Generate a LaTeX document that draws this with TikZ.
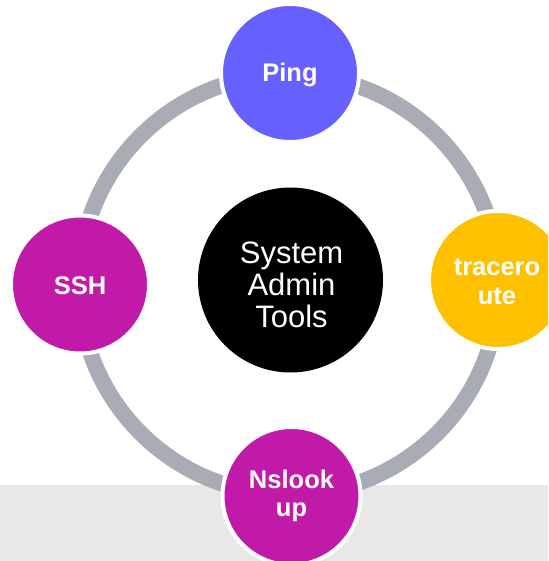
\documentclass[tikz,border=0pt]{standalone}
\usepackage{fontspec}
\setmainfont{Liberation Sans}
\definecolor{ringgray}{HTML}{A9ACB5}
\definecolor{bandgray}{HTML}{E8E8E8}
\definecolor{pingblue}{HTML}{6660FF}
\definecolor{tracegold}{HTML}{FFC000}
\definecolor{toolmagenta}{HTML}{C21AA8}
\begin{document}
\begin{tikzpicture}[x=1pt,y=-1pt,
  toolcircle/.style={circle,draw=white,line width=4pt,minimum size=138pt,inner sep=0pt},
  tooltext/.style={text=white,align=center,font=\fontsize{25.5}{28.5}\selectfont\bfseries},
  hubcircle/.style={circle,fill=black,minimum size=185pt,inner sep=0pt},
  hubtext/.style={text=white,align=center,font=\fontsize{31}{32}\selectfont},
  ring/.style={draw=ringgray,line width=16pt}]
\useasboundingbox (0,0) rectangle (548,561);
\clip (0,0) rectangle (548,561);
\fill[bandgray] (0,485) rectangle (548,561);
\coordinate (c) at (289,284.5);
\draw[ring] (c) circle[radius=210pt];
\node[hubcircle] (hub) at (290.5,280) {};
\node[hubtext] (hublabel) at ([xshift=1pt,yshift=-5pt]hub.center) {System\\Admin\\Tools};
\node[toolcircle,fill=pingblue] (ping) at (290,73) {};
\node[tooltext] (pinglabel) at ([yshift=-2pt]ping.center) {Ping};
\node[toolcircle,fill=tracegold] (trace) at (498,280) {};
\node[tooltext] (tracelabel) at ([xshift=-1pt,yshift=-2pt]trace.center) {tracero\\ute};
\node[toolcircle,fill=toolmagenta] (ssh) at (80,284.5) {};
\node[tooltext] (sshlabel) at ([yshift=-1pt]ssh.center) {SSH};
\node[toolcircle,fill=toolmagenta] (ns) at (291.5,496) {};
\node[tooltext] (nslabel) at (ns.center) {Nslook\\up};
\end{tikzpicture}
\end{document}
